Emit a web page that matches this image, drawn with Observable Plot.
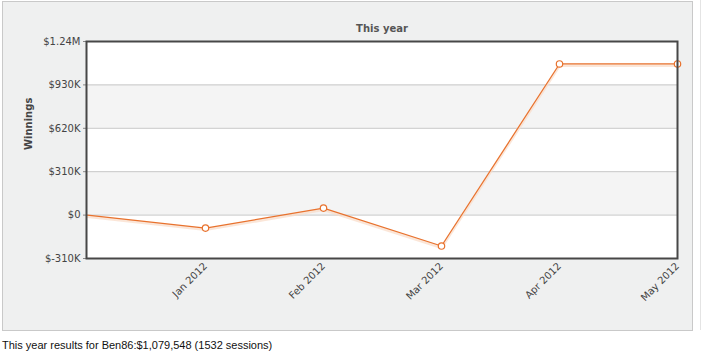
<!DOCTYPE html>
<html><head><meta charset="utf-8">
<script src="https://cdn.jsdelivr.net/npm/d3@7"></script>
<script src="https://cdn.jsdelivr.net/npm/@observablehq/plot@0.6"></script>
<style>
body{margin:0;background:#fff;width:706px;height:359px;overflow:hidden;}
#panel{position:absolute;left:2px;top:1px;width:689px;height:328px;background:#eff0f0;border:1px solid #c9c9c9;}
#edge{position:absolute;left:700px;top:0px;width:1px;height:330px;background:#e4e4e4;}
#cap{position:absolute;left:2px;top:339px;font:11px "Liberation Sans",Arial,sans-serif;color:#111;}
</style></head>
<body>
<div id="panel"></div>
<div id="edge"></div>
<div id="cap">This year results for Ben86:$1,079,548 (1532 sessions)</div>
<script>
const months = ["Dec 2011","Jan 2012","Feb 2012","Mar 2012","Apr 2012","May 2012"];
const winnings = [0, -93000, 50000, -221000, 1079548, 1079548];
const yTicks = [-310000, 0, 310000, 620000, 930000, 1240000];
const yTickLabels = ["$-310K","$0","$310K","$620K","$930K","$1.24M"];
const title = "This year";
const yLabel = "Winnings";

const data = months.map((m,i)=>({month:m, value:winnings[i]}));
const bands = yTicks.slice(0,-1).map((t,i)=>({y1:t, y2:yTicks[i+1], fill:(yTicks.length-2-i)%2===0?"#ffffff":"#f4f4f4"}));

const chart = Plot.plot({
  width:689, height:328,
  marginLeft:83, marginRight:15, marginTop:39, marginBottom:72,
  style:{background:"transparent", fontFamily:"'DejaVu Sans',Verdana,sans-serif", fontSize:"10px", color:"#444"},
  x:{type:"point", domain:months, padding:0, label:null},
  y:{domain:[-310000,1240000], label:null},
  marks:[
    Plot.rect(bands,{y1:"y1",y2:"y2",fill:"fill"}),
    Plot.ruleY(yTicks.slice(1,-1),{stroke:"#c8c8c8",strokeWidth:1}),
    Plot.axisY({ticks:yTicks, tickFormat:(d)=>yTickLabels[yTicks.indexOf(d)], tickSize:3, tickPadding:3, stroke:"#888", label:null}),
    Plot.axisX({ticks:months.slice(1), tickRotate:-45, tickSize:0, tickPadding:6, label:null}),
    Plot.line(data,{x:"month",y:"value",stroke:"#f9dcc8",strokeWidth:3,dy:1.5,strokeOpacity:0.7}),
    Plot.line(data,{x:"month",y:"value",stroke:"#e8722e",strokeWidth:1.2}),
    Plot.dot(data.slice(1),{x:"month",y:"value",r:3.2,fill:"#ffffff",stroke:"#e8722e",strokeWidth:1.2}),
    Plot.frame({stroke:"#474747",strokeWidth:2}),
    Plot.text([title],{frameAnchor:"top",dy:-17,fontWeight:"bold",fontSize:10,fill:"#555"}),
    Plot.text([yLabel],{frameAnchor:"left",dx:-58,rotate:-90,fontWeight:"bold",fontSize:10,fill:"#444"})
  ]
});
document.getElementById("panel").appendChild(chart);
</script>
</body></html>
